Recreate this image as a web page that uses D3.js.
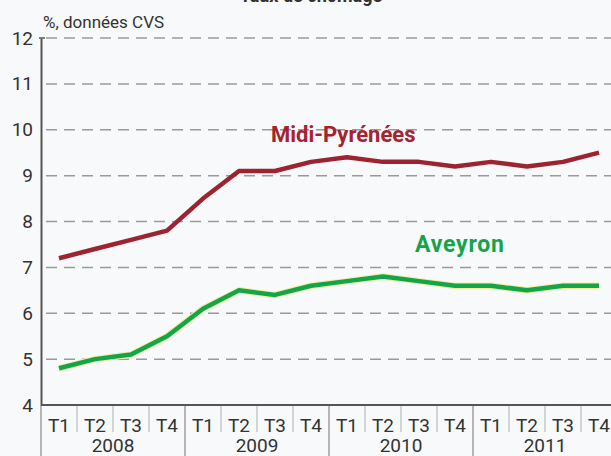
<!DOCTYPE html>
<html>
<head>
<meta charset="utf-8">
<script src="https://cdn.jsdelivr.net/npm/d3@7"></script>
<style>
  body { margin: 0; background: #f8f9fb; }
  svg { display: block; font-family: Roboto, "Noto Sans", sans-serif; }
</style>
</head>
<body>
<div id="chart"></div>
<script>
// Chômage : Midi-Pyrénées vs Aveyron, par trimestre

const years = ["2008", "2009", "2010", "2011"];
const quarters = ["T1", "T2", "T3", "T4"];
const midiPyrenees = [7.2, 7.4, 7.6, 7.8, 8.5, 9.1, 9.1, 9.3, 9.4, 9.3, 9.3, 9.2, 9.3, 9.2, 9.3, 9.5];
const aveyron = [4.8, 5.0, 5.1, 5.5, 6.1, 6.5, 6.4, 6.6, 6.7, 6.8, 6.7, 6.6, 6.6, 6.5, 6.6, 6.6];
const yTicks = [4, 5, 6, 7, 8, 9, 10, 11, 12];

const W = 611, H = 456;
const margin = {top: 38, left: 41, bottom: 51};

// one key per quarter
const periods = [];
years.forEach(y => quarters.forEach(q => periods.push(y + "-" + q)));

const svg = d3.select("#chart")
  .append("svg")
  .attr("width", W)
  .attr("height", H);

svg.append("rect").attr("width", W).attr("height", H).attr("fill", "#f8f9fb");

const x = d3.scaleBand()
  .domain(periods)
  .range([margin.left, margin.left + 36 * periods.length]);

const y = d3.scaleLinear()
  .domain([4, 12])
  .range([H - margin.bottom, margin.top]);

// title (cut at the top of the picture, as in the source)
svg.append("text")
  .attr("x", 311).attr("y", 2)
  .attr("text-anchor", "middle")
  .style("font-size", "18px")
  .style("font-weight", "bold")
  .attr("fill", "#333")
  .text("Taux de chômage");

// gridlines
svg.append("g")
  .selectAll("line")
  .data(yTicks.filter(d => d > 4))
  .join("line")
  .attr("x1", margin.left + 5)
  .attr("x2", W)
  .attr("y1", d => y(d))
  .attr("y2", d => y(d))
  .attr("stroke", "#9a9a9a")
  .attr("stroke-width", 1.5)
  .attr("stroke-dasharray", "11,7");

// y axis
const yAxis = svg.append("g")
  .attr("transform", `translate(${margin.left},0)`)
  .call(d3.axisLeft(y).tickValues(yTicks).tickSize(0).tickPadding(8));
yAxis.select(".domain").attr("stroke", "#555").attr("stroke-width", 2);
yAxis.selectAll("text")
  .style("font-size", "19px")
  .attr("fill", "#333")
  .style("font-family", "Roboto, sans-serif");

svg.append("line")
  .attr("x1", margin.left - 2).attr("x2", margin.left + 4)
  .attr("y1", y(12)).attr("y2", y(12))
  .attr("stroke", "#555").attr("stroke-width", 1.5);

svg.append("text")
  .attr("x", 43).attr("y", 28)
  .style("font-size", "17px")
  .attr("fill", "#333")
  .text("%, données CVS");

// x axis: quarters + years
const x0 = y(4);
svg.append("g")
  .selectAll("line")
  .data(periods)
  .join("line")
  .attr("x1", d => x(d)).attr("x2", d => x(d))
  .attr("y1", x0)
  .attr("y2", (d, i) => i % 4 === 0 ? H : x0 + 27)
  .attr("stroke", (d, i) => i % 4 === 0 ? "#888" : "#bbb")
  .attr("stroke-width", 1.2);

svg.append("g")
  .selectAll("text")
  .data(periods)
  .join("text")
  .attr("x", d => x(d) + x.bandwidth() / 2)
  .attr("y", x0 + 27)
  .attr("text-anchor", "middle")
  .style("font-size", "19px")
  .attr("fill", "#333")
  .text(d => d.split("-")[1]);

svg.append("g")
  .selectAll("text")
  .data(years)
  .join("text")
  .attr("x", d => x(d + "-T1") + x.bandwidth() * 2)
  .attr("y", H - 4)
  .attr("text-anchor", "middle")
  .style("font-size", "19px")
  .attr("fill", "#333")
  .text(d => d);

svg.append("line")
  .attr("x1", margin.left).attr("x2", W)
  .attr("y1", x0).attr("y2", x0)
  .attr("stroke", "#555").attr("stroke-width", 2);

// series
const line = d3.line()
  .x((d, i) => x(periods[i]) + x.bandwidth() / 2)
  .y(d => y(d));

svg.append("path")
  .datum(aveyron)
  .attr("d", line)
  .attr("fill", "none")
  .attr("stroke", "#f2ef9a")
  .attr("stroke-width", 6.5)
  .attr("stroke-linejoin", "round");

svg.append("path")
  .datum(aveyron)
  .attr("d", line)
  .attr("fill", "none")
  .attr("stroke", "#13a549")
  .attr("stroke-width", 4.5)
  .attr("stroke-linejoin", "round");

svg.append("path")
  .datum(midiPyrenees)
  .attr("d", line)
  .attr("fill", "none")
  .attr("stroke", "#9e2330")
  .attr("stroke-width", 4.5)
  .attr("stroke-linejoin", "round");

// labels
svg.append("text")
  .attr("x", 271).attr("y", 142)
  .style("font-size", "22px")
  .style("font-weight", "bold")
  .attr("fill", "#a5232f")
  .text("Midi-Pyrénées");

svg.append("text")
  .attr("x", 415).attr("y", 252)
  .style("font-size", "23px")
  .style("font-weight", "bold")
  .style("letter-spacing", "0.8px")
  .attr("fill", "#13a549")
  .text("Aveyron");
</script>
</body>
</html>
